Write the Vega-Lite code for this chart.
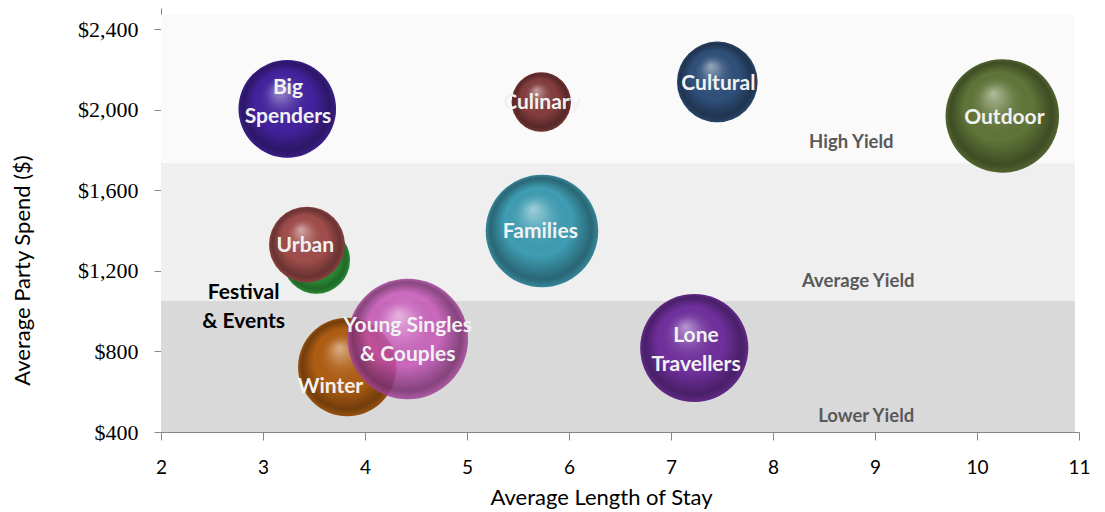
{
  "$schema": "https://vega.github.io/schema/vega-lite/v6.json",
  "width": 918,
  "height": 424,
  "autosize": {"type": "none"},
  "padding": {"left": 161, "top": 8, "right": 26, "bottom": 80},
  "background": "white",
  "config": {"view": {"stroke": null}, "axis": {"grid": false}},
  "datasets": {
    "bands": [
      {"band": "High Yield", "x": 2, "x2": 10.96, "y": 1735, "y2": 2472},
      {"band": "Average Yield", "x": 2, "x2": 10.96, "y": 1051, "y2": 1735},
      {"band": "Lower Yield", "x": 2, "x2": 10.96, "y": 400, "y2": 1051}
    ],
    "bandLabels": [
      {"band": "High Yield", "x": 8.768, "y": 1841},
      {"band": "Average Yield", "x": 8.836, "y": 1150},
      {"band": "Lower Yield", "x": 8.914, "y": 479}
    ],
    "segments": [
      {"segment": "Big Spenders", "x": 3.238, "y": 2005, "size": 30.3},
      {"segment": "Culinary", "x": 5.728, "y": 2039, "size": 11.2},
      {"segment": "Cultural", "x": 7.454, "y": 2139, "size": 20.7},
      {"segment": "Outdoor", "x": 10.248, "y": 1970, "size": 41.0},
      {"segment": "Families", "x": 5.735, "y": 1398, "size": 40.3},
      {"segment": "Festival & Events", "x": 3.523, "y": 1254, "size": 14.4},
      {"segment": "Urban", "x": 3.431, "y": 1331, "size": 18.3},
      {"segment": "Winter", "x": 3.826, "y": 723, "size": 30.8},
      {"segment": "Young Singles & Couples", "x": 4.42, "y": 862, "size": 46.2},
      {"segment": "Lone Travellers", "x": 7.228, "y": 817, "size": 37.2}
    ],
    "labels": [
      {"segment": "Big Spenders", "label": "Big\nSpenders", "x": 3.245, "y": 2109},
      {"segment": "Culinary", "label": "Culinary", "x": 5.735, "y": 2034},
      {"segment": "Cultural", "label": "Cultural", "x": 7.464, "y": 2129},
      {"segment": "Outdoor", "label": "Outdoor", "x": 10.268, "y": 1960},
      {"segment": "Families", "label": "Families", "x": 5.719, "y": 1395},
      {"segment": "Urban", "label": "Urban", "x": 3.415, "y": 1324},
      {"segment": "Young Singles & Couples", "label": "Young Singles\n& Couples", "x": 4.418, "y": 928},
      {"segment": "Winter", "label": "Winter", "x": 3.66, "y": 622},
      {"segment": "Lone Travellers", "label": "Lone\nTravellers", "x": 7.245, "y": 877},
      {"segment": "Festival & Events", "label": "Festival\n& Events", "x": 2.81, "y": 1092}
    ]
  },
  "encoding": {
    "x": {
      "field": "x", "type": "quantitative",
      "scale": {"domain": [2, 11], "nice": false, "zero": false},
      "title": "Average Length of Stay",
      "axis": {
        "values": [2, 3, 4, 5, 6, 7, 8, 9, 10, 11],
        "domainColor": "#868686", "tickColor": "#868686", "tickSize": 8,
        "labelFont": "Lato", "labelFontSize": 19, "labelColor": "#000000", "labelPadding": 18,
        "labelFlush": false, "labelOverlap": false,
        "titleFont": "Lato", "titleFontSize": 22, "titleFontWeight": "normal", "titleColor": "#000000",
        "titleX": 440, "titleY": 65, "titleAlign": "center", "titleBaseline": "middle"
      }
    },
    "y": {
      "field": "y", "type": "quantitative",
      "scale": {"domain": [400, 2506], "nice": false, "zero": false},
      "title": "Average Party Spend ($)",
      "axis": {
        "values": [400, 800, 1200, 1600, 2000, 2400],
        "format": "$,.0f",
        "domainColor": "#868686", "tickColor": "#868686", "tickSize": 7,
        "labelFont": "Liberation Serif", "labelFontSize": 22, "labelColor": "#000000", "labelPadding": 16,
        "labelFlush": false, "labelOverlap": false,
        "titleFont": "Lato", "titleFontSize": 22, "titleFontWeight": "normal", "titleColor": "#000000",
        "titleX": -139, "titleY": 262, "titleAngle": -90, "titleAlign": "center", "titleBaseline": "middle"
      }
    }
  },
  "layer": [
    {
      "data": {"name": "bands"},
      "mark": {"type": "rect"},
      "encoding": {
        "x2": {"field": "x2"},
        "y2": {"field": "y2"},
        "color": {
          "field": "band", "type": "nominal",
          "scale": {"domain": ["High Yield", "Average Yield", "Lower Yield"], "range": ["#fafafa", "#efefef", "#d9d9d9"]},
          "legend": null
        }
      }
    },
    {
      "data": {"name": "bandLabels"},
      "mark": {"type": "text", "font": "Lato", "fontWeight": "bold", "fontSize": 18.5, "color": "#595959", "align": "center", "baseline": "middle"},
      "encoding": {"text": {"field": "band"}}
    },
    {
      "data": {"name": "segments"},
      "transform": [{"filter": "datum.segment !== 'Urban' && datum.segment !== 'Young Singles & Couples'"}],
      "mark": {"type": "point", "shape": "circle", "filled": true, "strokeWidth": 0, "opacity": 1},
      "encoding": {
        "size": {"field": "size", "type": "quantitative", "scale": {"type": "linear", "domain": [0, 50], "range": [0, 15708]}, "legend": null},
        "fill": {
          "field": "segment", "type": "nominal",
          "scale": {
            "domain": ["Big Spenders", "Culinary", "Cultural", "Outdoor", "Families", "Festival & Events", "Urban", "Winter", "Young Singles & Couples", "Lone Travellers"],
            "range": ["#43239e", "#853d3d", "#30507a", "#607538", "#3f9db3", "#30a03c", "#a04d4b", "#b05e12", "#c84fb8", "#70309e"]
          },
          "legend": null
        }
      }
    },
    {
      "data": {"name": "segments"},
      "transform": [{"filter": "datum.segment !== 'Urban' && datum.segment !== 'Young Singles & Couples'"}],
      "mark": {
        "type": "point", "shape": "circle", "filled": true, "strokeWidth": 0, "opacity": 1,
        "fill": {"gradient": "radial", "x1": 0.42, "y1": 0.3, "r1": 0, "x2": 0.5, "y2": 0.5, "r2": 0.5,
          "stops": [
            {"offset": 0, "color": "rgba(255,255,255,0.5)"},
            {"offset": 0.28, "color": "rgba(255,255,255,0.12)"},
            {"offset": 0.6, "color": "rgba(0,0,0,0)"},
            {"offset": 0.9, "color": "rgba(0,0,0,0.35)"},
            {"offset": 1, "color": "rgba(0,0,0,0.15)"}
          ]}
      },
      "encoding": {
        "size": {"field": "size", "type": "quantitative", "scale": {"type": "linear", "domain": [0, 50], "range": [0, 15708]}, "legend": null}
      }
    },
    {
      "data": {"name": "segments"},
      "transform": [{"filter": "datum.segment === 'Urban' || datum.segment === 'Young Singles & Couples'"}],
      "mark": {"type": "point", "shape": "circle", "filled": true, "strokeWidth": 0},
      "encoding": {
        "size": {"field": "size", "type": "quantitative", "scale": {"type": "linear", "domain": [0, 50], "range": [0, 15708]}, "legend": null},
        "fill": {"field": "segment", "type": "nominal", "legend": null},
        "opacity": {"condition": {"test": "datum.segment === 'Young Singles & Couples'", "value": 0.82}, "value": 1}
      }
    },
    {
      "data": {"name": "segments"},
      "transform": [{"filter": "datum.segment === 'Urban' || datum.segment === 'Young Singles & Couples'"}],
      "mark": {
        "type": "point", "shape": "circle", "filled": true, "strokeWidth": 0, "opacity": 1,
        "fill": {"gradient": "radial", "x1": 0.42, "y1": 0.3, "r1": 0, "x2": 0.5, "y2": 0.5, "r2": 0.5,
          "stops": [
            {"offset": 0, "color": "rgba(255,255,255,0.5)"},
            {"offset": 0.28, "color": "rgba(255,255,255,0.12)"},
            {"offset": 0.6, "color": "rgba(0,0,0,0)"},
            {"offset": 0.9, "color": "rgba(0,0,0,0.35)"},
            {"offset": 1, "color": "rgba(0,0,0,0.15)"}
          ]}
      },
      "encoding": {
        "size": {"field": "size", "type": "quantitative", "scale": {"type": "linear", "domain": [0, 50], "range": [0, 15708]}, "legend": null}
      }
    },
    {
      "data": {"name": "labels"},
      "mark": {"type": "text", "font": "Lato", "fontWeight": "bold", "fontSize": 21, "align": "center", "baseline": "middle", "lineBreak": "\n", "lineHeight": 29},
      "encoding": {
        "text": {"field": "label"},
        "color": {"condition": {"test": "datum.segment === 'Festival & Events'", "value": "#000000"}, "value": "#f2f2f2"}
      }
    }
  ]
}
